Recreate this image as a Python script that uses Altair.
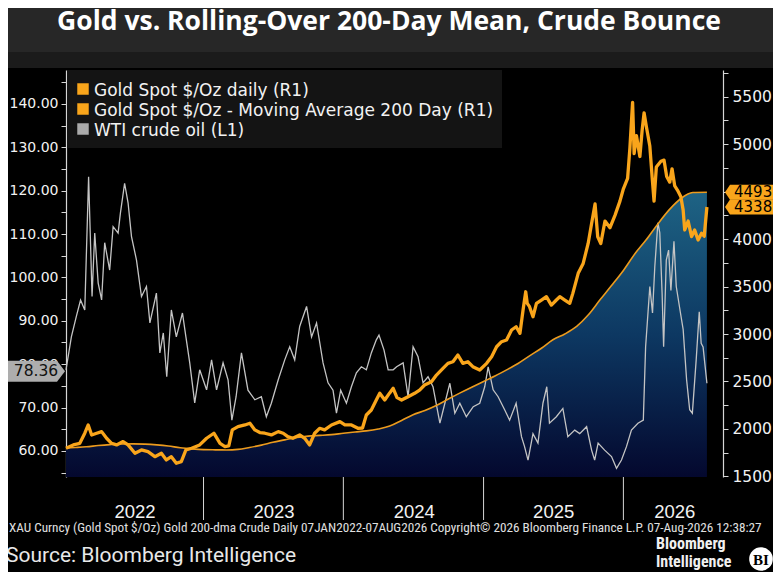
import altair as alt
import pandas as pd

# ---------------- layout (plot area only) ----------------
W, H = 657, 407
PAD = {"left": 58, "top": 62, "right": 50, "bottom": 95}

# ---------------- texts ----------------
TITLE = "Gold vs. Rolling-Over 200-Day Mean, Crude Bounce"
FOOTER = ("XAU Curncy (Gold Spot  $/Oz) Gold 200-dma Crude Daily 07JAN2022-07AUG2026   "
          "Copyright\u00a9 2026 Bloomberg Finance L.P.   07-Aug-2026 12:38:27")
SOURCE = "Source: Bloomberg Intelligence"
LOGO_LINES = ["Bloomberg", "Intelligence"]
LOGO_BADGE = "BI"
LEGEND_LABELS = ["Gold Spot $/Oz daily (R1)",
                 "Gold Spot $/Oz - Moving Average 200 Day (R1)",
                 "WTI crude oil (L1)"]

# ---------------- colours ----------------
GOLD_COLOR = "#f9a51b"
MA_COLOR = "#ec9b1d"
OIL_COLOR = "#c4c4c4"
LEGEND_COLORS = [GOLD_COLOR, GOLD_COLOR, "#ababab"]
AXIS_COLOR = "#d6d6d6"
LABEL_COLOR = "#f2f2f2"
OIL_TAG_COLOR = "#adadad"

# ---------------- scales / ticks ----------------
X_DOMAIN = ["2022-01-07", "2026-09-18"]
GOLD_DOMAIN = [1494, 5781]
OIL_DOMAIN = [54.0, 147.8]
GOLD_TICKS = [1500, 1750, 2000, 2250, 2500, 2750, 3000, 3250, 3500, 3750,
              4000, 4250, 4500, 4750, 5000, 5250, 5500, 5750]
OIL_TICKS = [55, 60, 65, 70, 75, 80, 85, 90, 95, 100, 105, 110, 115, 120,
             125, 130, 135, 140, 145]
QUARTER_TICKS = ["2022-04-01", "2022-07-01", "2022-10-01",
                 "2023-01-01", "2023-04-01", "2023-07-01", "2023-10-01",
                 "2024-01-01", "2024-04-01", "2024-07-01", "2024-10-01",
                 "2025-01-01", "2025-04-01", "2025-07-01", "2025-10-01",
                 "2026-01-01", "2026-04-01", "2026-07-01"]
YEAR_STARTS = ["2023-01-01", "2024-01-01", "2025-01-01", "2026-01-01"]
YEAR_LABELS = ["2022", "2023", "2024", "2025", "2026"]
YEAR_LABEL_DATES = ["2022-07-06", "2023-07-04", "2024-07-04", "2025-07-03", "2026-05-15"]

# last-value tags
GOLD_TAG_VALUES = [4493, 4338]          # 200-dma, spot
OIL_TAG_VALUES = [78.36]

# ---------------- series ----------------
gold_dates = [
    "2022-01-07", "2022-01-26", "2022-02-12", "2022-02-25", "2022-03-06", "2022-03-15",
    "2022-03-28", "2022-04-10", "2022-04-23", "2022-05-06", "2022-05-19", "2022-06-05",
    "2022-06-18", "2022-07-06", "2022-07-23", "2022-08-09", "2022-08-27", "2022-09-13",
    "2022-09-26", "2022-10-09", "2022-10-22", "2022-11-04", "2022-11-16", "2022-12-01",
    "2022-12-22",
    "2023-01-09", "2023-01-28", "2023-02-13", "2023-02-26", "2023-03-08", "2023-03-17",
    "2023-04-01", "2023-04-19", "2023-05-02", "2023-05-15", "2023-05-28", "2023-06-10",
    "2023-06-27", "2023-07-15", "2023-07-28", "2023-08-09", "2023-08-22", "2023-09-09",
    "2023-09-22", "2023-10-05", "2023-10-18", "2023-10-31", "2023-11-13", "2023-12-01",
    "2023-12-23",
    "2024-01-05", "2024-01-22", "2024-02-08", "2024-02-20", "2024-03-01", "2024-03-14",
    "2024-03-27", "2024-04-05", "2024-04-18", "2024-05-01", "2024-05-10", "2024-05-20",
    "2024-06-01", "2024-06-18", "2024-07-05", "2024-07-18", "2024-07-31", "2024-08-18",
    "2024-08-31", "2024-09-17", "2024-09-30", "2024-10-13", "2024-10-26", "2024-11-08",
    "2024-11-21", "2024-12-04", "2024-12-22",
    "2025-01-09", "2025-01-22", "2025-02-04", "2025-02-17", "2025-03-02", "2025-03-15",
    "2025-03-27", "2025-04-06", "2025-04-14", "2025-04-21", "2025-04-25", "2025-05-01",
    "2025-05-10", "2025-05-19", "2025-06-01", "2025-06-14", "2025-06-27", "2025-07-10",
    "2025-07-19", "2025-08-01", "2025-08-14", "2025-08-22", "2025-09-05", "2025-09-18",
    "2025-10-01", "2025-10-10", "2025-10-19", "2025-10-26", "2025-11-03", "2025-11-14",
    "2025-11-27", "2025-12-10", "2025-12-23",
    "2026-01-01", "2026-01-12", "2026-01-18", "2026-01-25", "2026-01-29", "2026-02-04",
    "2026-02-13", "2026-02-19", "2026-02-24", "2026-03-02", "2026-03-11", "2026-03-17",
    "2026-03-22", "2026-03-28", "2026-04-09", "2026-04-17", "2026-04-24", "2026-05-02",
    "2026-05-08", "2026-05-15", "2026-05-22", "2026-05-31", "2026-06-06", "2026-06-10",
    "2026-06-19", "2026-06-28", "2026-07-06", "2026-07-15", "2026-07-24", "2026-07-31",
    "2026-08-07",
]
gold_values = [
    1797, 1832, 1849, 1955, 2042, 1937,
    1955, 1972, 1902, 1849, 1832, 1867,
    1832, 1744, 1779, 1761, 1708, 1744,
    1674, 1708, 1639, 1656, 1779, 1797,
    1832,
    1902, 1955, 1849, 1815, 1822, 1990,
    2024, 2042, 2060, 1990, 1962, 1955,
    1937, 1972, 1955, 1919, 1902, 1937,
    1902, 1832, 1955, 2007, 1990, 2042,
    2077,
    2042, 2042, 2007, 2010, 2147, 2200,
    2305, 2376, 2305, 2380, 2428, 2330,
    2305, 2340, 2376, 2410, 2463, 2498,
    2568, 2639, 2691, 2708, 2779, 2691,
    2708, 2656, 2621,
    2691, 2761, 2866, 2919, 2937, 3042,
    3077, 3007, 3250, 3445, 3323, 3288,
    3182, 3323, 3358, 3393, 3305, 3358,
    3393, 3358, 3323, 3428, 3639, 3744,
    3954, 4165, 4370, 4024, 3954, 4190,
    4120, 4250, 4400,
    4530, 4640, 4960, 5440, 4900, 5090,
    4870, 5150, 5330, 5184, 4980, 4656,
    4400, 4760, 4820, 4832, 4660, 4600,
    4740, 4560, 4516, 4445, 4305, 4096,
    4190, 4026, 4096, 3990, 4061, 4030,
    4338,
]

ma_dates = [
    "2022-01-07", "2022-02-01", "2022-03-01", "2022-04-01", "2022-05-01", "2022-06-01",
    "2022-07-01", "2022-08-01", "2022-09-01", "2022-10-01", "2022-11-01", "2022-12-01",
    "2023-01-01", "2023-02-01", "2023-03-01", "2023-04-01", "2023-05-01", "2023-06-01",
    "2023-07-01", "2023-08-01", "2023-09-01", "2023-10-01", "2023-11-01", "2023-12-01",
    "2024-01-01", "2024-02-01", "2024-03-01", "2024-04-01", "2024-05-01", "2024-06-01",
    "2024-07-01", "2024-08-01", "2024-09-01", "2024-10-01", "2024-11-01", "2024-12-01",
    "2025-01-01", "2025-02-01", "2025-03-01", "2025-04-01", "2025-05-01", "2025-06-01",
    "2025-07-01", "2025-08-01", "2025-09-01", "2025-10-01", "2025-11-01", "2025-12-01",
    "2026-01-01", "2026-02-01", "2026-03-01", "2026-04-01", "2026-05-01", "2026-06-01",
    "2026-07-01", "2026-08-07",
]
ma_values = [
    1800, 1805, 1812, 1825, 1835, 1842,
    1843, 1840, 1832, 1820, 1802, 1790,
    1782, 1780, 1779, 1785, 1805, 1830,
    1860, 1885, 1910, 1925, 1932, 1940,
    1955, 1968, 1980, 2000, 2030, 2090,
    2150, 2195, 2250, 2315, 2380, 2440,
    2500, 2560, 2620, 2690, 2770, 2850,
    2940, 3000, 3080, 3200, 3360, 3510,
    3670, 3850, 3990, 4160, 4310, 4430,
    4490, 4493,
]

oil_dates = [
    "2022-01-07", "2022-01-21", "2022-02-03", "2022-02-14", "2022-02-25", "2022-03-07",
    "2022-03-16", "2022-03-23", "2022-04-01", "2022-04-10", "2022-04-18", "2022-05-01",
    "2022-05-10", "2022-05-23", "2022-05-29", "2022-06-09", "2022-06-18", "2022-06-27",
    "2022-07-10", "2022-07-23", "2022-08-05", "2022-08-14", "2022-08-31", "2022-09-09",
    "2022-09-18", "2022-09-27", "2022-10-09", "2022-10-22", "2022-11-07", "2022-11-16",
    "2022-11-26", "2022-12-09", "2022-12-22",
    "2023-01-09", "2023-01-22", "2023-02-04", "2023-02-21", "2023-03-06", "2023-03-16",
    "2023-03-27", "2023-04-10", "2023-04-27", "2023-05-15", "2023-06-01", "2023-06-14",
    "2023-06-27", "2023-07-15", "2023-08-01", "2023-08-14", "2023-08-27", "2023-09-09",
    "2023-09-27", "2023-10-10", "2023-10-23", "2023-11-09", "2023-11-22", "2023-12-05",
    "2023-12-14", "2023-12-25",
    "2024-01-09", "2024-01-22", "2024-02-04", "2024-02-17", "2024-03-01", "2024-03-14",
    "2024-03-27", "2024-04-03", "2024-04-16", "2024-04-27", "2024-05-10", "2024-05-19",
    "2024-06-05", "2024-06-18", "2024-07-01", "2024-07-14", "2024-07-27", "2024-08-09",
    "2024-08-22", "2024-09-09", "2024-09-22", "2024-10-05", "2024-10-18", "2024-10-31",
    "2024-11-17", "2024-12-05", "2024-12-22",
    "2025-01-04", "2025-01-13", "2025-01-26", "2025-02-08", "2025-02-25", "2025-03-10",
    "2025-03-27", "2025-04-10", "2025-04-18", "2025-04-27", "2025-05-10", "2025-05-23",
    "2025-06-05", "2025-06-15", "2025-06-22", "2025-07-10", "2025-07-27", "2025-08-09",
    "2025-08-27", "2025-09-09", "2025-09-27", "2025-10-10", "2025-10-18", "2025-10-27",
    "2025-11-13", "2025-12-01", "2025-12-14", "2025-12-27",
    "2026-01-09", "2026-01-22", "2026-02-08", "2026-02-22", "2026-02-28", "2026-03-11",
    "2026-03-18", "2026-03-24", "2026-04-01", "2026-04-06", "2026-04-12", "2026-04-16",
    "2026-04-23", "2026-04-29", "2026-05-05", "2026-05-13", "2026-05-19", "2026-05-30",
    "2026-06-06", "2026-06-15", "2026-06-23", "2026-06-30", "2026-07-10", "2026-07-18",
    "2026-07-23", "2026-07-28", "2026-08-07",
]
oil_values = [
    78.7, 86.3, 91.0, 94.8, 92.5, 123.2,
    95.6, 110.2, 98.7, 94.8, 108.0, 101.7,
    111.7, 110.2, 114.8, 121.7, 117.2, 109.4,
    104.0, 95.6, 97.9, 89.5, 96.4, 82.6,
    87.2, 77.1, 92.5, 86.3, 91.8, 86.3,
    80.3, 71.1, 78.7,
    74.1, 81.0, 74.1, 80.3, 76.4, 67.1,
    72.5, 82.6, 74.0, 71.8, 72.5, 67.9,
    71.0, 76.4, 81.0, 84.0, 81.0, 88.7,
    93.3, 86.3, 89.5, 80.3, 75.7, 74.0,
    68.7, 74.0,
    71.0, 74.8, 78.0, 79.4, 78.7, 82.6,
    85.6, 86.7, 83.3, 78.7, 78.7, 79.4,
    80.3, 72.5, 84.0, 81.7, 75.7, 77.1,
    74.8, 66.4, 71.0, 75.6, 68.7, 71.0,
    67.9, 70.2, 71.0,
    74.8, 79.4, 74.1, 72.5, 69.5, 67.1,
    71.0, 63.3, 61.0, 57.9, 64.0, 61.8,
    71.0, 74.8, 66.4, 67.9, 69.8, 63.3,
    64.8, 64.0, 65.6, 60.2, 57.9, 61.8,
    60.2, 58.7, 56.0, 57.9,
    61.0, 64.8, 66.4, 67.1, 84.0, 97.9,
    91.8, 102.5, 112.6, 110.3, 96.4, 84.0,
    104.0, 106.3, 97.0, 108.3, 97.9, 91.8,
    88.0, 76.4, 69.5, 68.7, 81.0, 92.1,
    84.8, 84.0, 75.6,
]

gold_df = pd.DataFrame({"date": gold_dates, "value": gold_values})
ma_df = pd.DataFrame({"date": ma_dates, "value": ma_values})
oil_df = pd.DataFrame({"date": oil_dates, "value": oil_values})
gold_tag_df = pd.DataFrame({"value": GOLD_TAG_VALUES})
oil_tag_df = pd.DataFrame({"value": OIL_TAG_VALUES})
sep_df = pd.DataFrame({"date": YEAR_STARTS})
year_df = pd.DataFrame({"date": YEAR_LABEL_DATES, "label": YEAR_LABELS})
one = pd.DataFrame({"k": [0]})


def dt(s):
    y, m, d = (int(p) for p in s.split("-"))
    return alt.DateTime(year=y, month=m, date=d, utc=True)


x_scale = alt.Scale(domain=[dt(X_DOMAIN[0]), dt(X_DOMAIN[1])])
gold_scale = alt.Scale(domain=GOLD_DOMAIN, nice=False, zero=False)
oil_scale = alt.Scale(domain=OIL_DOMAIN, nice=False, zero=False)

x_axis = alt.Axis(values=[dt(s) for s in QUARTER_TICKS], labels=False, tickSize=5,
                  tickColor=AXIS_COLOR, domainColor=AXIS_COLOR, domainWidth=1.2,
                  grid=False, title=None)
x_main = alt.X("date:T", scale=x_scale, axis=x_axis)
x_plain = alt.X("date:T", scale=x_scale, axis=None)

AX_FONT = "DejaVu Sans"
gold_axis = alt.Axis(orient="right", values=GOLD_TICKS,
                     labelExpr="datum.value % 500 == 0 ? format(datum.value, 'd') : ''",
                     tickSize=5, labelPadding=4, tickColor=AXIS_COLOR, domainColor=AXIS_COLOR,
                     domainWidth=1.2, labelColor=LABEL_COLOR, labelFont=AX_FONT,
                     labelFontSize=15.5, grid=False, title=None)
oil_axis = alt.Axis(orient="left", values=OIL_TICKS,
                    labelExpr="datum.value % 10 == 0 ? format(datum.value, '.2f') : ''",
                    tickSize=5, labelPadding=3, tickColor=AXIS_COLOR, domainColor=AXIS_COLOR,
                    domainWidth=1.2, labelColor=LABEL_COLOR, labelFont=AX_FONT,
                    labelFontSize=14, grid=False, title=None)

gradient = alt.Gradient(
    gradient="linear", x1=0, x2=0, y1=0, y2=1,
    stops=[alt.GradientStop(color="#1e6384", offset=0),
           alt.GradientStop(color="#0d3862", offset=0.5),
           alt.GradientStop(color="#04082e", offset=1)],
)

area = alt.Chart(ma_df).mark_area(fill=gradient, interpolate="monotone", line=False).encode(
    x=x_plain, y=alt.Y("value:Q", scale=gold_scale, axis=None), y2=alt.datum(GOLD_DOMAIN[0]))

oil_line = alt.Chart(oil_df).mark_line(color=OIL_COLOR, strokeWidth=1.3).encode(
    x=x_plain, y=alt.Y("value:Q", scale=oil_scale, axis=oil_axis))

ma_line = alt.Chart(ma_df).mark_line(color=MA_COLOR, strokeWidth=1.6, interpolate="monotone").encode(
    x=x_plain, y=alt.Y("value:Q", scale=gold_scale, axis=None))

gold_line = alt.Chart(gold_df).mark_line(color=GOLD_COLOR, strokeWidth=3.3, strokeJoin="round").encode(
    x=x_main, y=alt.Y("value:Q", scale=gold_scale, axis=gold_axis))

# value tags on the axes
RIGHT_TAG = "M -1 0 L -0.796 -0.306 L 1 -0.306 L 1 0.306 L -0.796 0.306 Z"
LEFT_TAG = "M 1 0 L 0.754 -0.323 L -1 -0.323 L -1 0.323 L 0.754 0.323 Z"

gold_tag = alt.Chart(gold_tag_df).mark_point(
    shape=RIGHT_TAG, size=2401, filled=True, fill=GOLD_COLOR, opacity=1, strokeWidth=0).encode(
    x=alt.value(W + 26.5), y=alt.Y("value:Q", scale=gold_scale, axis=None))
gold_tag_text = alt.Chart(gold_tag_df).mark_text(
    align="left", baseline="middle", font=AX_FONT, fontSize=15, color="#000000").encode(
    x=alt.value(W + 11), y=alt.Y("value:Q", scale=gold_scale, axis=None),
    text=alt.Text("value:Q", format="d"))

oil_tag = alt.Chart(oil_tag_df).mark_point(
    shape=LEFT_TAG, size=4225, filled=True, fill=OIL_TAG_COLOR, opacity=1, strokeWidth=0).encode(
    x=alt.value(-33.5), y=alt.Y("value:Q", scale=oil_scale, axis=None))
oil_tag_text = alt.Chart(oil_tag_df).mark_text(
    align="center", baseline="middle", font=AX_FONT, fontSize=15.5, color="#111111").encode(
    x=alt.value(-30), y=alt.Y("value:Q", scale=oil_scale, axis=None),
    text=alt.Text("value:Q", format=".2f"))

# x axis: year separators and centred year labels
seps = alt.Chart(sep_df).mark_rule(color=AXIS_COLOR, strokeWidth=1).encode(
    x=x_plain, y=alt.value(H), y2=alt.value(H + 43))
years = alt.Chart(year_df).mark_text(
    font="Liberation Sans", fontSize=18.5, color=LABEL_COLOR, baseline="alphabetic").encode(
    x=x_plain, y=alt.value(H + 41), text="label:N")


def deco_rect(x, x2, y, y2, color):
    return alt.Chart(one).mark_rect(color=color).encode(
        x=alt.value(x), x2=alt.value(x2), y=alt.value(y), y2=alt.value(y2))


def deco_text(txt, x, y, **kw):
    return alt.Chart(one).mark_text(text=txt, baseline="alphabetic", **kw).encode(
        x=alt.value(x), y=alt.value(y))


header = deco_rect(-PAD["left"], W + PAD["right"], -PAD["top"], -18, "#272727")
strip = deco_rect(-PAD["left"], W + PAD["right"], -18, -2, "#1b1b1b")
title = deco_text(TITLE, 323, -40, align="center", font="Open Sans", fontSize=26.5,
                  fontWeight="bold", color="#ffffff")

legend_layers = [deco_rect(1, 436, 0, 78, "#141414")]
for i, (lab, col) in enumerate(zip(LEGEND_LABELS, LEGEND_COLORS)):
    legend_layers.append(
        alt.Chart(one).mark_square(size=132, color=col, opacity=1).encode(
            x=alt.value(17), y=alt.value(19 + 20 * i)))
    legend_layers.append(
        deco_text(lab, 28, 25.5 + 20 * i, align="left", font=AX_FONT, fontSize=17,
                  color=LABEL_COLOR))

NARROW = "Liberation Sans Narrow, Roboto Condensed, Roboto"
footer = deco_text(FOOTER, -57, 462, align="left", font=NARROW, fontSize=13.2, color="#e0e0e0")
source = deco_text(SOURCE, -60, 492, align="left", font="Roboto", fontSize=21, color="#e8e8e8")
logo1 = deco_text(LOGO_LINES[0], 590, 479, align="left", font=NARROW, fontSize=16,
                  fontWeight="bold", color="#f0f0f0")
logo2 = deco_text(LOGO_LINES[1], 590, 497, align="left", font=NARROW, fontSize=16,
                  fontWeight="bold", color="#f0f0f0")
badge = alt.Chart(one).mark_point(shape="circle", size=560, filled=True, fill="#ffffff",
                                  opacity=1, strokeWidth=0).encode(
    x=alt.value(695), y=alt.value(489))
badge_text = deco_text(LOGO_BADGE, 695, 494.5, align="center", font="Liberation Serif",
                       fontSize=15, fontWeight="bold", color="#000000")

chart = alt.layer(
    header, strip, title,
    area, oil_line, ma_line, gold_line,
    gold_tag, gold_tag_text, oil_tag, oil_tag_text,
    seps, years,
    *legend_layers,
    footer, source, logo1, logo2, badge, badge_text,
).resolve_scale(
    y="independent"
).properties(
    width=W, height=H, padding=PAD,
    autosize=alt.AutoSizeParams(type="none"),
    background="#000000",
).configure_view(stroke="transparent")

chart.save("out.html", embed_options={"renderer": "svg", "actions": False})
